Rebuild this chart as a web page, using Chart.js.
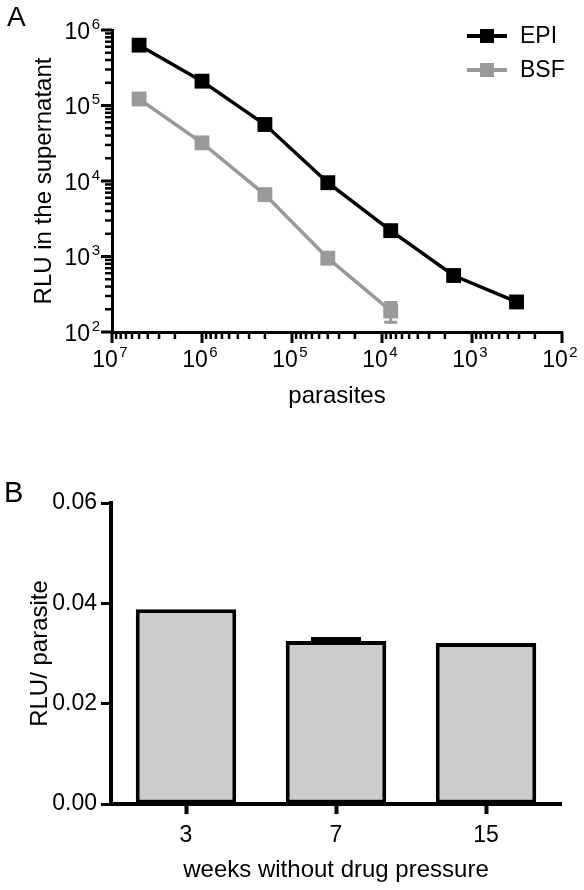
<!DOCTYPE html>
<html>
<head>
<meta charset="utf-8">
<script src="https://cdn.jsdelivr.net/npm/chart.js@4.4.1/dist/chart.umd.min.js"></script>
<style>
  body { margin: 0; background: #fff; }
  .panel { position: relative; width: 584px; }
  .tag { position: absolute; font-family: "Liberation Sans", Arial, sans-serif; font-size: 28px; line-height: 1; }
  canvas { display: block; }
</style>
</head>
<body>
<div class="panel" style="height:450px">
  <div class="tag" style="left:7px;top:3px">A</div>
  <canvas id="curveChart" width="584" height="450"></canvas>
</div>
<div class="panel" style="height:440px">
  <div class="tag" style="left:4px;top:28px;font-size:29px">B</div>
  <canvas id="barChart" width="584" height="440"></canvas>
</div>

<script>
// Panel A - luminescence vs number of parasites
const parasites = [5e6, 1e6, 2e5, 4e4, 8e3, 1.6e3, 3.2e2];
const epiRLU = [6.3e5, 2.1e5, 5.6e4, 9.5e3, 2.2e3, 560, 250];
const bsfRLU = [1.22e5, 3.2e4, 6.6e3, 950, 190];
const bsfErr = [0, 0, 0, 0, 55];
const xDecades = [1e2, 1e3, 1e4, 1e5, 1e6, 1e7];
const yDecades = [1e2, 1e3, 1e4, 1e5, 1e6];

// Panel B - RLU per parasite over time
const weeks = ['3', '7', '15'];
const rluPerParasite = [0.0388, 0.0325, 0.0321];
const rluErr = [0, 0.0004, 0];
const barTicks = [0, 0.02, 0.04, 0.06];

const FONT = '"Liberation Sans", Arial, sans-serif';
Chart.defaults.font.family = FONT;
Chart.defaults.color = '#000';

// major tick at each decade, minor ticks at 2..9 inside it
function logTicks(decades) {
    const out = [];
    decades.forEach((d, i) => {
        out.push({ value: d, major: true });
        if (i < decades.length - 1) {
            for (let k = 2; k < 10; k++) out.push({ value: k * d, major: false });
        }
    });
    return out;
}

// "10" with a raised exponent, anchored at (x, baseline)
function drawPower(ctx, v, x, base, align) {
    const exp = String(Math.round(Math.log10(v)));
    ctx.font = '23px ' + FONT;
    const w10 = ctx.measureText('10').width;
    ctx.font = '15px ' + FONT;
    const wExp = ctx.measureText(exp).width;
    const total = w10 + 1.5 + wExp;
    const left = align === 'right' ? x - total : x - total / 2;
    ctx.textAlign = 'left';
    ctx.textBaseline = 'alphabetic';
    ctx.font = '23px ' + FONT;
    ctx.fillText('10', left, base);
    ctx.font = '15px ' + FONT;
    ctx.fillText(exp, left + w10 + 1.5, base - 10);
}

// tick marks (long for decades, short between) and power-of-ten labels
const logAxes = {
    id: 'logAxes',
    afterDraw(chart) {
        const ctx = chart.ctx;
        ctx.save();
        ctx.strokeStyle = '#000';
        ctx.fillStyle = '#000';
        ['x', 'y'].forEach(id => {
            const s = chart.scales[id];
            s.ticks.forEach(t => {
                const p = s.getPixelForValue(t.value);
                const len = t.major ? 11 : 7;
                ctx.lineWidth = t.major ? 3 : 2.5;
                ctx.beginPath();
                if (id === 'x') {
                    ctx.moveTo(p, s.top);
                    ctx.lineTo(p, s.top + len);
                } else {
                    ctx.moveTo(s.right, p);
                    ctx.lineTo(s.right - len, p);
                }
                ctx.stroke();
                if (!t.major) return;
                if (id === 'x') drawPower(ctx, t.value, p - 2, s.top + 35, 'center');
                else drawPower(ctx, t.value, s.right - 12, p + 8.5, 'right');
            });
        });
        ctx.restore();
    }
};

function drawErrors(chart, opts) {
    const ctx = chart.ctx;
    const yScale = chart.scales.y;
    chart.data.datasets.forEach((ds, di) => {
        if (!ds.errors) return;
        const meta = chart.getDatasetMeta(di);
        meta.data.forEach((el, i) => {
            const err = ds.errors[i];
            if (!err) return;
            const v = typeof ds.data[i] === 'object' ? ds.data[i].y : ds.data[i];
            const top = yScale.getPixelForValue(v + err);
            const bot = opts.upOnly ? yScale.getPixelForValue(v) : yScale.getPixelForValue(v - err);
            const half = opts.capWidth / 2;
            ctx.save();
            ctx.strokeStyle = ds.borderColor;
            ctx.lineWidth = opts.lineWidth;
            ctx.beginPath();
            ctx.moveTo(el.x, top);
            ctx.lineTo(el.x, bot);
            ctx.moveTo(el.x - half, top);
            ctx.lineTo(el.x + half, top);
            if (!opts.upOnly) {
                ctx.moveTo(el.x - half, bot);
                ctx.lineTo(el.x + half, bot);
            }
            ctx.stroke();
            ctx.restore();
        });
    });
}

const errorBars = {
    id: 'errorBars',
    beforeDatasetsDraw(chart, args, opts) { if (opts.behind) drawErrors(chart, opts); },
    afterDatasetsDraw(chart, args, opts) { if (!opts.behind) drawErrors(chart, opts); }
};

// legend in the top right corner: line with square marker, then the name
const lineLegend = {
    id: 'lineLegend',
    afterDraw(chart) {
        const { ctx, chartArea } = chart;
        ctx.save();
        ctx.font = '23px ' + FONT;
        ctx.textBaseline = 'middle';
        chart.data.datasets.forEach((ds, i) => {
            const y = chartArea.top + 6 + i * 34;
            const x0 = chartArea.right - 95;
            ctx.strokeStyle = ds.borderColor;
            ctx.lineWidth = 4;
            ctx.beginPath();
            ctx.moveTo(x0, y);
            ctx.lineTo(x0 + 40, y);
            ctx.stroke();
            ctx.fillStyle = ds.borderColor;
            ctx.fillRect(x0 + 13, y - 7, 14, 14);
            ctx.fillStyle = '#000';
            ctx.fillText(ds.label, x0 + 53, y + 1);
        });
        ctx.restore();
    }
};

new Chart(document.getElementById('curveChart'), {
    type: 'line',
    data: {
        datasets: [
            {
                label: 'EPI',
                data: epiRLU.map((r, i) => ({ x: parasites[i], y: r })),
                borderColor: '#000',
                backgroundColor: '#000'
            },
            {
                label: 'BSF',
                data: bsfRLU.map((r, i) => ({ x: parasites[i], y: r })),
                borderColor: '#999999',
                backgroundColor: '#999999',
                errors: bsfErr
            }
        ]
    },
    options: {
        responsive: false,
        animation: false,
        layout: { padding: { top: 30, right: 22, left: 0, bottom: 0 } },
        elements: {
            line: { borderWidth: 3.5, tension: 0 },
            point: { pointStyle: 'rect', radius: 10.5, hoverRadius: 10.5, borderWidth: 0 }
        },
        plugins: {
            legend: { display: false },
            tooltip: { enabled: false },
            errorBars: { behind: true, lineWidth: 3, capWidth: 13 }
        },
        scales: {
            x: {
                type: 'logarithmic',
                reverse: true,
                min: 1e2,
                max: 1e7,
                afterBuildTicks: s => { s.ticks = logTicks(xDecades); },
                afterFit: s => { s.height = 118; },
                grid: { drawOnChartArea: false, drawTicks: false },
                border: { color: '#000', width: 3 },
                ticks: { display: false },
                title: { display: true, text: 'parasites', font: { size: 24 }, padding: { bottom: 39 } }
            },
            y: {
                type: 'logarithmic',
                min: 1e2,
                max: 1e6,
                afterBuildTicks: s => { s.ticks = logTicks(yDecades); },
                afterFit: s => { s.width = 112; },
                grid: { drawOnChartArea: false, drawTicks: false },
                border: { color: '#000', width: 3 },
                ticks: { display: false },
                title: { display: true, text: 'RLU in the supernatant', font: { size: 24 }, padding: { top: 30 } }
            }
        }
    },
    plugins: [errorBars, logAxes, lineLegend]
});

new Chart(document.getElementById('barChart'), {
    type: 'bar',
    data: {
        labels: weeks,
        datasets: [{
            data: rluPerParasite,
            errors: rluErr,
            backgroundColor: '#cccccc',
            borderColor: '#000',
            borderWidth: 4,
            borderSkipped: false,
            barPercentage: 0.67,
            categoryPercentage: 1
        }]
    },
    options: {
        responsive: false,
        animation: false,
        layout: { padding: { top: 53, right: 23, left: 0, bottom: 0 } },
        plugins: {
            legend: { display: false },
            tooltip: { enabled: false },
            errorBars: { lineWidth: 4, capWidth: 50, upOnly: true }
        },
        scales: {
            x: {
                afterFit: s => { s.height = 86; },
                grid: { offset: false, drawOnChartArea: false, tickLength: 10, tickWidth: 4, tickColor: '#000' },
                border: { color: '#000', width: 4 },
                ticks: { padding: 8, font: { size: 23 } },
                title: { display: true, text: 'weeks without drug pressure', font: { size: 24 }, padding: { bottom: 5 } }
            },
            y: {
                min: 0,
                max: 0.06,
                afterBuildTicks: s => { s.ticks = barTicks.map(v => ({ value: v })); },
                afterFit: s => { s.width = 111; },
                grid: { drawOnChartArea: false, tickLength: 10, tickWidth: 3, tickColor: '#000' },
                border: { color: '#000', width: 4 },
                ticks: { padding: 4, font: { size: 23 }, callback: v => v.toFixed(2) },
                title: { display: true, text: 'RLU/ parasite', font: { size: 24 }, padding: { top: 26 } }
            }
        }
    },
    plugins: [errorBars]
});
</script>
</body>
</html>
